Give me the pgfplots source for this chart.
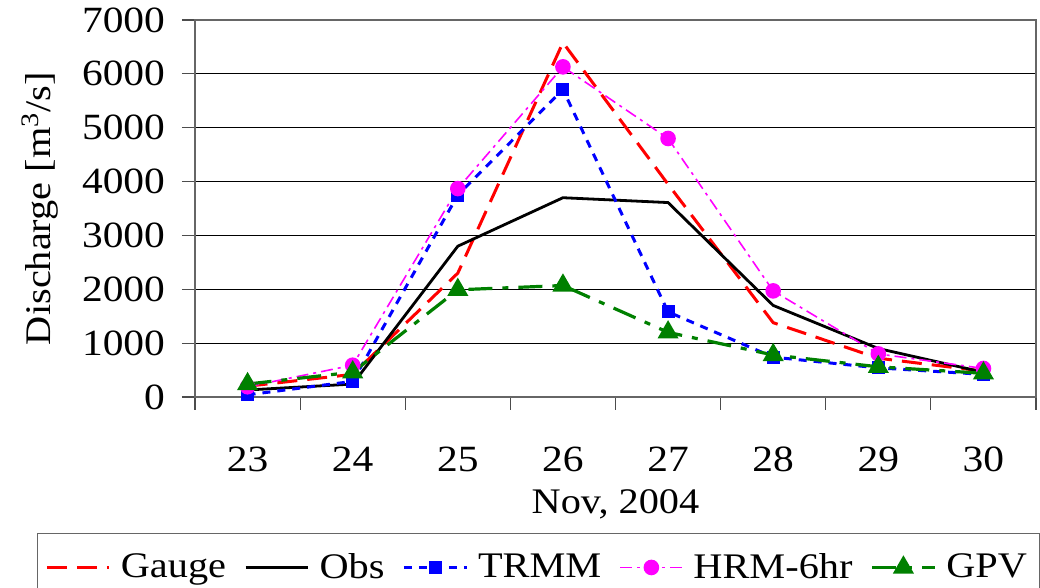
\documentclass[border=0pt]{standalone}
\usepackage{fontspec}
\setmainfont{Liberation Serif}[FakeStretch=1.12]
\usepackage{pgfplots}
\pgfplotsset{compat=1.18}
\newcommand\cf{\fontsize{18}{21.6}\selectfont}
\newcommand\tf{\fontsize{18.5}{22}\selectfont}
\definecolor{xlgreen}{RGB}{0,128,0}
\definecolor{xlmagenta}{RGB}{255,0,255}

\begin{document}
\begin{tikzpicture}
\begin{axis}[
    name=ax,
    scale only axis,
    width=420.5pt, height=188.5pt,
    xmin=0, xmax=8,
    ymin=0, ymax=7000,
    xtick={0,...,8},
    xticklabels={23,24,25,26,27,28,29,30},
    x tick label as interval,
    ytick={0,1000,...,7000},
    scaled y ticks=false,
    /pgf/number format/.cd, 1000 sep={}, assume math mode=true, /pgfplots/.cd,
    tick align=outside, tick pos=left,
    major tick length=6.5pt,
    tick style={black!70, line width=0.6pt},
    axis line style={black!60, line width=0.8pt},
    ymajorgrids,
    grid style={black, line width=0.5pt},
    ticklabel style={font=\tf},
    xticklabel style={yshift=-15pt},
    yticklabel style={xshift=-5pt},
    label style={font=\cf},
    xlabel={Nov, 2004},
    xlabel style={yshift=-2pt},
    ylabel={Discharge [m\textsuperscript{3}/s]},
    ylabel style={yshift=5pt},
    legend columns=5,
    legend style={at={(0.408,-0.361)}, anchor=north, draw=black!60,
        font=\cf, inner xsep=4pt, inner ysep=8pt,
        /tikz/every odd column/.append style={column sep=3pt},
        /tikz/every even column/.append style={column sep=7pt}},
    legend image code/.code={\draw[mark repeat=2,mark phase=2,#1]
        plot coordinates {(0cm,0cm)(0.55cm,0cm)(1.1cm,0cm)};},
]

\addplot[red, line width=1.5pt, dash pattern=on 10pt off 5pt]
    coordinates {(0.5,200)(1.5,420)(2.5,2300)(3.5,6580)(4.5,3950)(5.5,1380)(6.5,720)(7.5,480)};
\addplot[black, line width=1.4pt]
    coordinates {(0.5,130)(1.5,240)(2.5,2800)(3.5,3700)(4.5,3610)(5.5,1700)(6.5,900)(7.5,460)};
\addplot[blue, line width=1.5pt, dash pattern=on 4pt off 3.5pt,
    mark=square*, mark size=2.5pt, mark options={solid}]
    coordinates {(0.5,40)(1.5,290)(2.5,3750)(3.5,5710)(4.5,1580)(5.5,740)(6.5,540)(7.5,420)};
\addplot[xlmagenta, line width=0.8pt, dash pattern=on 6pt off 2.5pt on 1.5pt off 2.5pt,
    mark=*, mark size=3.5pt, mark options={solid, fill=xlmagenta, draw=xlmagenta}]
    coordinates {(0.5,190)(1.5,590)(2.5,3870)(3.5,6130)(4.5,4800)(5.5,1970)(6.5,800)(7.5,530)};
\addplot[xlgreen, line width=1.6pt, dash pattern=on 12pt off 5pt on 3pt off 5pt,
    mark=triangle*, mark size=4.5pt, mark options={solid}]
    coordinates {(0.5,240)(1.5,460)(2.5,1990)(3.5,2070)(4.5,1200)(5.5,780)(6.5,560)(7.5,440)};

\legend{Gauge, Obs, TRMM, HRM-6hr, GPV}
\end{axis}
\pgfresetboundingbox
\path[use as bounding box] ([xshift=-97.5pt,yshift=-95.5pt]ax.south west)
    rectangle ([xshift=2pt,yshift=10pt]ax.north east);
\end{tikzpicture}
\end{document}
